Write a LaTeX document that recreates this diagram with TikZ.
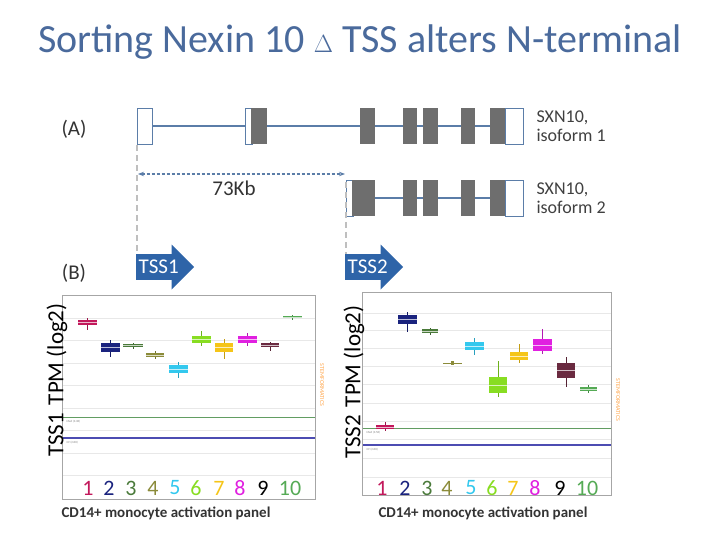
\documentclass[tikz,border=0pt]{standalone}
\usepackage{fontspec}
\setmainfont{Carlito}
\usetikzlibrary{shapes.arrows,arrows.meta}
\definecolor{titleblue}{HTML}{4A6A9C}
\definecolor{genel}{HTML}{5B7DA8}
\definecolor{exgrey}{HTML}{6E6E6E}
\definecolor{arrblue}{HTML}{2E64A8}
\definecolor{cA}{HTML}{C2185B}\definecolor{cB}{HTML}{1A237E}\definecolor{cC}{HTML}{4A7A3A}
\definecolor{cD}{HTML}{8B8B3A}\definecolor{cE}{HTML}{33C8EE}\definecolor{cF}{HTML}{88DD22}
\definecolor{cG}{HTML}{F5C518}\definecolor{cH}{HTML}{E020E0}\definecolor{cI}{HTML}{6A2A40}
\definecolor{cJ}{HTML}{55AA55}
\tikzset{
 wex/.style={draw=genel,fill=white,line width=0.8pt},
 frame/.style={draw=gray!70,line width=0.8pt},
 grid/.style={draw=gray!18,line width=0.5pt},
 tss/.style={single arrow,fill=arrblue,text=white,minimum height=58pt,minimum width=45pt,single arrow head extend=6pt,inner sep=1pt,font=\fontsize{21}{21}\selectfont,anchor=west,single arrow tip angle=90},
}
\newcommand{\bx}[7]{% x1 x2 top bottom wtop wbot color
 \draw[#7!80!black,line width=0.6pt] ({(#1+#2)/2},#5) -- ({(#1+#2)/2},#6);
 \fill[#7] (#1,#3) rectangle (#2,#4);
 \draw[white!70!#7,line width=0.4pt] (#1,{(#3+#4)/2}) -- (#2,{(#3+#4)/2});}
\begin{document}
\begin{tikzpicture}[x=1pt,y=-1pt]
\useasboundingbox (0,0) rectangle (720,540);
\node[text=titleblue,font=\fontsize{40}{40}\selectfont] (title) at (360,42) {Sorting Nexin 10 {\fontsize{46}{46}\selectfont$\Delta$} TSS alters N-terminal};
\node[font=\fontsize{21}{21}\selectfont,text=black!80] (lA) at (74,129) {(A)};
\node[font=\fontsize{21}{21}\selectfont,text=black!80] (lB) at (74,273) {(B)};
% isoform 1
\draw[genel,line width=1.5pt] (145,126) -- (515,126);
\draw[wex] (137,108) rectangle (152,144);
\draw[wex] (245,108) rectangle (252,144);
\fill[exgrey] (251,108) rectangle (267,144);
\foreach \a/\b in {360/375,403/417,423/438,461/475,490/505} \fill[exgrey] (\a,108) rectangle (\b,144);
\draw[wex] (505,108) rectangle (523,144);
% isoform 2
\draw[genel,line width=1.5pt] (350,198) -- (515,198);
\draw[wex] (346,180) rectangle (353,216);
\fill[exgrey] (352,180) rectangle (375,216);
\foreach \a/\b in {403/417,423/438,461/475,490/505} \fill[exgrey] (\a,180) rectangle (\b,216);
\draw[wex] (505,180) rectangle (523,216);
\node[anchor=west,align=left,font=\fontsize{18}{19}\selectfont,text=black!75] (i1) at (533,126) {SXN10,\\isoform 1};
\node[anchor=west,align=left,font=\fontsize{18}{19}\selectfont,text=black!75] (i2) at (533,198) {SXN10,\\isoform 2};
% dashed
\coordinate (d1a) at (137,145); \coordinate (d1b) at (137,258);
\coordinate (d2a) at (346,182); \coordinate (d2b) at (346,258);
\draw[gray!50,line width=1.5pt,dash pattern=on 6pt off 4pt] (d1a) -- (d1b);
\draw[gray!50,line width=1.5pt,dash pattern=on 6pt off 4pt] (d2a) -- (d2b);
\coordinate (h1) at (138,174); \coordinate (h2) at (345,174);
\draw[genel,line width=1.2pt,dash pattern=on 3pt off 2pt,{Stealth[length=6pt]}-{Stealth[length=6pt]}] (h1) -- (h2);
\node[font=\fontsize{21}{21}\selectfont,text=black!80] (kb) at (234,188) {73Kb};
\node[tss] (t1) at (136,267) {TSS1\hspace{8pt}};
\node[tss] (t2) at (345,267) {TSS2\hspace{8pt}};
% plot 1
\foreach \y in {318,340,363,385,408,430,453,475} \draw[grid] (62,\y) -- (315,\y);
\draw[cJ!70!gray,line width=0.8pt] (62,417) -- (315,417);
\draw[blue!40!gray,line width=1.2pt] (62,438) -- (315,438);
\node[font=\fontsize{3}{3}\selectfont,anchor=west,text=gray] (m1) at (63,422) {Med (3.38)};
\node[font=\fontsize{3}{3}\selectfont,anchor=west,text=gray] (g1) at (63,443) {GT (2.88)};
\bx{78}{97}{320}{325}{318}{330}{cA}
\bx{101}{120}{343}{352}{340}{357}{cB}
\bx{123}{143}{344}{347}{343}{349}{cC}
\bx{146}{164}{353}{357}{351}{359}{cD}
\bx{169}{188}{365}{373}{362}{378}{cE}
\bx{192}{211}{336}{343}{331}{346}{cF}
\bx{215}{233}{343}{352}{339}{359}{cG}
\bx{238}{257}{336}{343}{333}{346}{cH}
\bx{261}{279}{343}{347}{342}{351}{cI}
\bx{283}{302}{316}{318}{315}{320}{cJ}
\draw[frame] (62,295) rectangle (315,499);
\foreach \x/\n/\c in {88/1/cA,109/2/cB,131/3/cC,153/4/cD,175/5/cE,196/6/cF,219/7/cG,240/8/cH,263/9/black,290/10/cJ}
 \node[text=\c,font=\fontsize{22}{22}\selectfont] at (\x,488) {\n};
\node[rotate=90,font=\fontsize{23}{23}\selectfont] (y1) at (57,380) {TSS1\,\,TPM (log2)};
\node[rotate=-90,font=\fontsize{6}{6}\selectfont,text=orange!70] (s1) at (322,385) {STEMFORMATICS};
\node[font=\bfseries\fontsize{15}{15}\selectfont,text=black!80] (x1) at (166,513) {CD14+ monocyte activation panel};
% plot 2
\foreach \y in {313,330,348,366,384,403,421,439,458,477} \draw[grid] (362,\y) -- (611,\y);
\draw[cJ!70!gray,line width=0.8pt] (362,428) -- (611,428);
\draw[blue!40!gray,line width=1.5pt] (362,445) -- (611,445);
\node[font=\fontsize{3}{3}\selectfont,anchor=west,text=gray] (m2) at (363,433) {Med (3.58)};
\node[font=\fontsize{3}{3}\selectfont,anchor=west,text=gray] (g2) at (363,450) {GT (2.88)};
\bx{376}{394}{425}{429}{422}{431}{cA}
\bx{398}{417}{315}{324}{312}{332}{cB}
\bx{422}{438}{329}{333}{328}{335}{cC}
\draw[cD,line width=0.8pt] (443,363) -- (462,363); \fill[cD] (451,361) rectangle (454,365);
\bx{465}{484}{342}{350}{338}{355}{cE}
\bx{489}{507}{377}{393}{361}{397}{cF}
\bx{510}{528}{352}{360}{344}{363}{cG}
\bx{533}{552}{339}{351}{329}{354}{cH}
\bx{557}{575}{363}{378}{357}{387}{cI}
\bx{580}{597}{387}{391}{385}{393}{cJ}
\draw[frame] (362,292) rectangle (611,495);
\foreach \x/\n/\c in {382/1/cA,405/2/cB,427/3/cC,447/4/cD,471/5/cE,492/6/cF,513/7/cG,535/8/cH,560/9/black,587/10/cJ}
 \node[text=\c,font=\fontsize{22}{22}\selectfont] at (\x,488) {\n};
\node[rotate=90,font=\fontsize{23}{23}\selectfont] (y2) at (354,382) {TSS2\,\,TPM (log2)};
\node[rotate=-90,font=\fontsize{6}{6}\selectfont,text=orange!70] (s2) at (618,400) {STEMFORMATICS};
\node[font=\bfseries\fontsize{15}{15}\selectfont,text=black!80] (x2) at (483,513) {CD14+ monocyte activation panel};
\end{tikzpicture}
\end{document}
